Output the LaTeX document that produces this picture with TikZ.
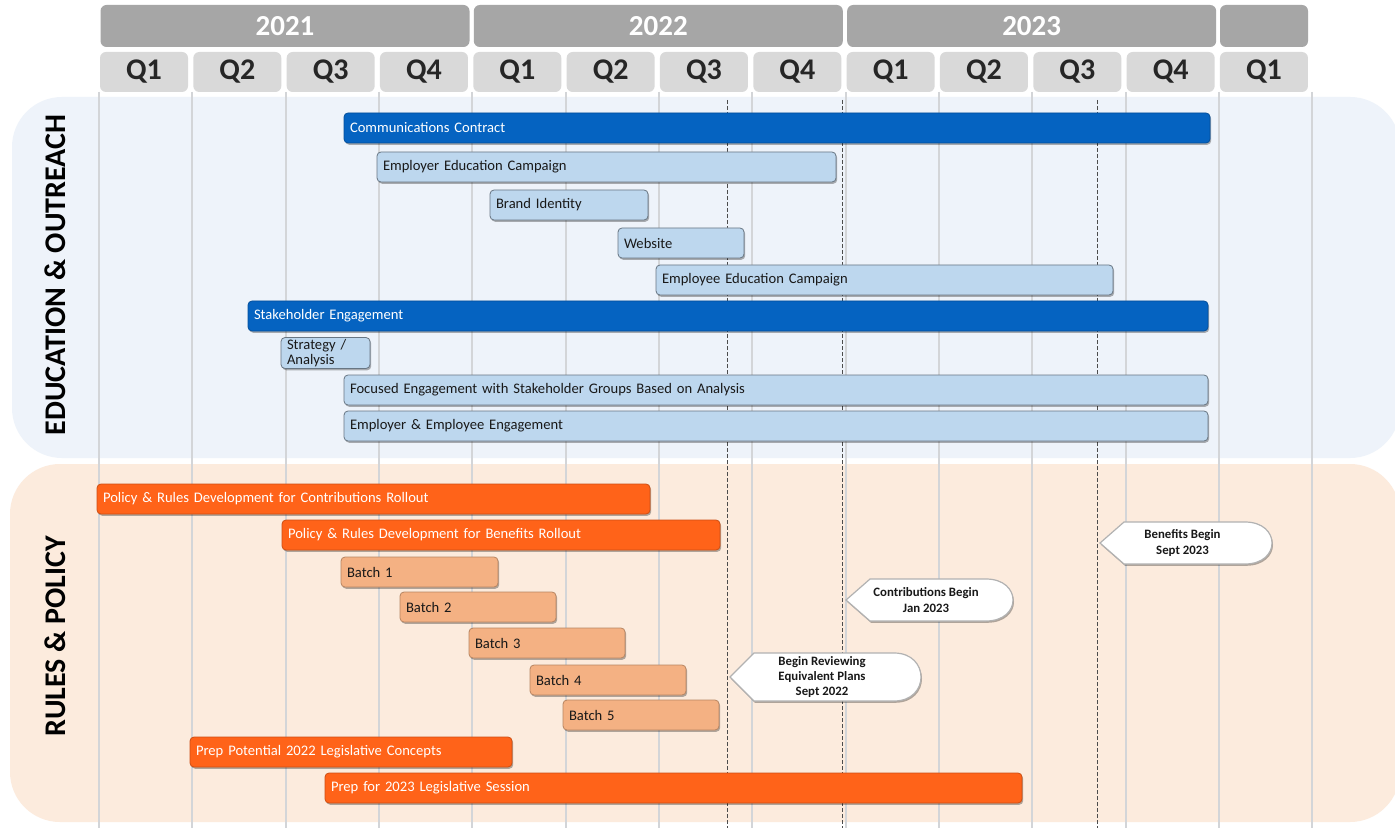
\documentclass[tikz,border=0pt]{standalone}
\usepackage{fontspec}
\setmainfont{Carlito}
\usetikzlibrary{shadows}

\definecolor{eduback}{HTML}{EEF3FA}
\definecolor{ruleback}{HTML}{FCEBDD}
\definecolor{yeargray}{HTML}{A6A6A6}
\definecolor{qtrgray}{HTML}{D9D9D9}
\definecolor{gridgray}{HTML}{D3D5D8}
\definecolor{darkblue}{HTML}{0563C1}
\definecolor{lightblue}{HTML}{BDD7EE}
\definecolor{darkorange}{HTML}{FF6319}
\definecolor{lightorange}{HTML}{F4B183}

\tikzset{
  taskbar/.style={draw, rounded corners=2pt, inner xsep=3pt, inner ysep=0pt,
    minimum height=15pt, align=left, font=\fontsize{7.3}{7.9}\selectfont,
    drop shadow={shadow xshift=0.6pt, shadow yshift=-0.9pt, opacity=0.3, fill=black}},
  edumain/.style={fill=darkblue, draw=darkblue!80!black, text=white},
  edusub/.style={fill=lightblue, draw=black!45!lightblue, text=black!90},
  rulemain/.style={fill=darkorange, draw=darkorange!80!black, text=white},
  rulesub/.style={fill=lightorange, draw=lightorange!75!black, text=black!90},
  qtrbox/.style={fill=qtrgray, rounded corners=3pt, minimum width=44pt, minimum height=20pt,
    text=black!85, font=\bfseries\fontsize{15}{18}\selectfont},
  yearbox/.style={fill=yeargray, rounded corners=3pt, minimum height=21pt,
    text=white, font=\bfseries\fontsize{14.5}{17}\selectfont},
  gridline/.style={gridgray, line width=1pt},
  milestone/.style={black!70, line width=0.5pt, dash pattern=on 2pt off 1pt},
  calloutshape/.style={fill=white, draw=black!30, line width=0.6pt,
    drop shadow={shadow xshift=0.5pt, shadow yshift=-0.9pt, opacity=0.3, fill=black}},
  callouttext/.style={align=center, inner sep=0pt, text=black!90,
    font=\bfseries\fontsize{6.4}{7.6}\selectfont},
  section/.style={rotate=90, font=\bfseries\fontsize{15}{18}\selectfont}
}

% \task[style]{name}{x start}{x end}{y}{text}
\newcommand{\task}[6][]{%
  \pgfmathsetmacro\taskw{(#4-#3)*0.5-6}%
  \node[taskbar,#1,text width=\taskw pt] (#2) at ({(#3+#4)/2},#5) {#6}}
% \callout{name}{tip x}{tip y}{body length}{half height}{text}
\newcommand{\callout}[6]{%
  \path[calloutshape] (#2,#3) -- ++(24,-#5) -- ++(#4,0) .. controls +(36,0) and +(36,0) .. ++(0,2*#5) -- ++(-#4,0) -- cycle;
  \node[callouttext] (#1) at ({#2+24+#4/2-2},#3) {#6}}

\begin{document}
\begin{tikzpicture}[x=0.5pt,y=-0.5pt]
  \clip (0,0) rectangle (1395,828);
  \fill[white] (0,0) rectangle (1395,828);

  % swim lanes
  \fill[eduback, rounded corners=25pt] (12,97) rectangle (1400,458);
  \fill[ruleback, rounded corners=25pt] (10,464) rectangle (1400,822);
  \node[section] (edu) at (55,275) {EDUCATION \& OUTREACH};
  \node[section] (rules) at (55,636) {RULES \& POLICY};

  % quarter grid and key dates
  \foreach \k in {0,...,13}
    \draw[gridline] ({99+93.33*\k},92) -- ({99+93.33*\k},828);
  \foreach \x in {727,842,1097}
    \draw[milestone] (\x,100) -- (\x,828);

  % header
  \foreach \yr [count=\k from 0] in {2021,2022,2023}
    \node[yearbox, minimum width=184.5pt] (y\yr) at ({99+373.33*\k+186},26) {\yr};
  \node[yearbox, minimum width=44pt] (y2024) at (1264,26) {};
  \foreach \q [count=\k from 0] in {1,2,3,4,1,2,3,4,1,2,3,4,1}
    \node[qtrbox] (q\k) at ({99+93.33*\k+45},72) {Q\q};

  % education & outreach
  \task[edumain]{comms}{344}{1210}{128}{Communications Contract};
  \task[edusub]{eredu}{377}{836}{167}{Employer Education Campaign};
  \task[edusub]{brand}{490}{648}{205}{Brand Identity};
  \task[edusub]{web}{618}{744}{243}{Website};
  \task[edusub]{eeedu}{656}{1113}{280}{Employee Education Campaign};
  \task[edumain]{stake}{248}{1208}{316}{Stakeholder Engagement};
  \task[edusub,minimum height=15.5pt,font=\fontsize{7.3}{7.6}\selectfont]{strat}{281}{370}{353}{Strategy /\\Analysis};
  \task[edusub]{focus}{344}{1208}{390}{Focused Engagement with Stakeholder Groups Based on Analysis};
  \task[edusub]{ereng}{344}{1208}{426}{Employer \& Employee Engagement};

  % rules & policy
  \task[rulemain]{contrib}{97}{650}{499}{Policy \& Rules Development for Contributions Rollout};
  \task[rulemain]{benef}{282}{720}{535}{Policy \& Rules Development for Benefits Rollout};
  \task[rulesub]{batch1}{341}{498}{572}{Batch 1};
  \task[rulesub]{batch2}{400}{556}{607}{Batch 2};
  \task[rulesub]{batch3}{469}{625}{643}{Batch 3};
  \task[rulesub]{batch4}{530}{686}{680}{Batch 4};
  \task[rulesub]{batch5}{563}{719}{715}{Batch 5};
  \task[rulemain]{prep22}{190}{512}{752}{Prep Potential 2022 Legislative Concepts};
  \task[rulemain]{prep23}{325}{1022}{788}{Prep for 2023 Legislative Session};

  % milestones
  \callout{benbegin}{1100}{543}{121}{21}{Benefits Begin\\Sept 2023};
  \callout{conbegin}{846}{600}{116}{21}{Contributions Begin\\Jan 2023};
  \callout{review}{730}{677}{140}{24}{Begin Reviewing\\Equivalent Plans\\Sept 2022};
\end{tikzpicture}
\end{document}
